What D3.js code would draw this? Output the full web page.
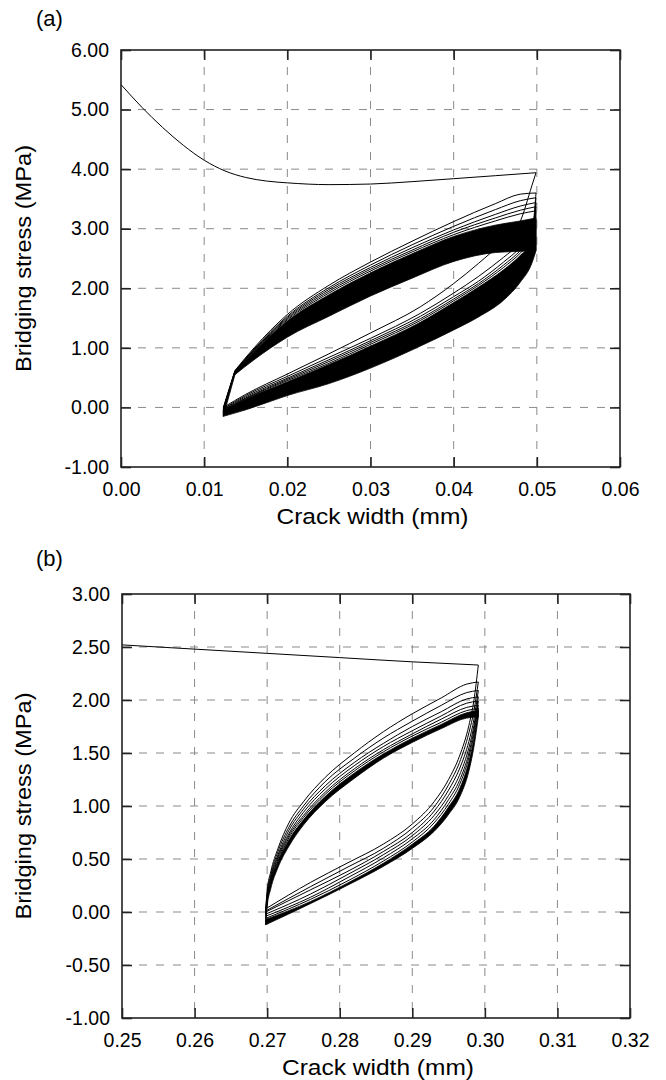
<!DOCTYPE html>
<html>
<head>
<meta charset="utf-8">
<script src="https://cdn.jsdelivr.net/npm/d3@7/dist/d3.min.js"></script>
<style>
  body { margin: 0; background: #fff; }
  svg { display: block; font-family: "Liberation Sans", Arial, sans-serif; }
</style>
</head>
<body>
<div id="chart"></div>
<script>
// ---------- panel (a) ----------
const aXTicks = [0, 0.01, 0.02, 0.03, 0.04, 0.05, 0.06];
const aYTicks = [-1, 0, 1, 2, 3, 4, 5, 6];

// monotonic envelope before the first unloading
const aEnvX = [0, 0.0025, 0.005, 0.0075, 0.01, 0.0125, 0.015, 0.0175, 0.02, 0.025, 0.03, 0.035, 0.04, 0.045, 0.0499];
const aEnvY = [5.42, 5.04, 4.70, 4.40, 4.15, 3.97, 3.86, 3.80, 3.77, 3.74, 3.75, 3.79, 3.84, 3.89, 3.94];

// reloading branches (upper side of the loops); first segment is the steep straight reload
const aUpX = [0.0123, 0.0137, 0.016, 0.02, 0.025, 0.03, 0.035, 0.04, 0.045, 0.048, 0.0499];
const aUp1 = [0.00, 0.62, 1.00, 1.56, 2.05, 2.44, 2.79, 3.12, 3.42, 3.58, 3.60];
const aUp2 = [-0.02, 0.61, 0.98, 1.53, 2.01, 2.39, 2.73, 3.04, 3.32, 3.47, 3.52];
const aUp3 = [-0.03, 0.61, 0.97, 1.51, 1.98, 2.35, 2.68, 2.98, 3.24, 3.38, 3.44];
const aUp4 = [-0.04, 0.60, 0.96, 1.49, 1.95, 2.32, 2.64, 2.94, 3.18, 3.31, 3.37];
const aUp5 = [-0.05, 0.60, 0.95, 1.47, 1.92, 2.29, 2.61, 2.90, 3.13, 3.25, 3.30];
const aUpBandTop = [-0.05, 0.60, 0.94, 1.45, 1.89, 2.26, 2.58, 2.87, 3.06, 3.13, 3.18];
const aUpBandBot = [-0.15, 0.55, 0.80, 1.18, 1.53, 1.87, 2.17, 2.45, 2.60, 2.62, 2.63];

// unloading branches (lower side of the loops)
const aLoX = [0.0499, 0.0494, 0.048, 0.046, 0.043, 0.04, 0.036, 0.03, 0.025, 0.02, 0.015, 0.0123];
const aLo1 = [3.94, 3.72, 3.12, 2.80, 2.42, 2.08, 1.69, 1.25, 0.90, 0.56, 0.22, 0.00];
const aLo2 = [3.60, 2.95, 2.75, 2.52, 2.20, 1.92, 1.58, 1.16, 0.84, 0.52, 0.20, -0.02];
const aLo3 = [3.52, 2.90, 2.68, 2.44, 2.12, 1.86, 1.53, 1.12, 0.80, 0.49, 0.18, -0.03];
const aLo4 = [3.44, 2.86, 2.63, 2.39, 2.08, 1.82, 1.49, 1.09, 0.77, 0.47, 0.16, -0.04];
const aLo5 = [3.37, 2.82, 2.59, 2.35, 2.05, 1.79, 1.46, 1.06, 0.74, 0.45, 0.15, -0.05];
const aLoBandTop = [3.30, 2.78, 2.55, 2.31, 2.02, 1.76, 1.43, 1.03, 0.72, 0.43, 0.14, -0.05];
const aLoBandBot = [2.63, 2.42, 2.10, 1.80, 1.52, 1.30, 1.03, 0.66, 0.40, 0.20, -0.04, -0.15];

// ---------- panel (b) ----------
const bXTicks = [0.25, 0.26, 0.27, 0.28, 0.29, 0.30, 0.31, 0.32];
const bYTicks = [-1, -0.5, 0, 0.5, 1, 1.5, 2, 2.5, 3];

const bEnvX = [0.25, 0.26, 0.27, 0.28, 0.29, 0.2991];
const bEnvY = [2.52, 2.48, 2.44, 2.40, 2.36, 2.33];

const bUpX = [0.2698, 0.2700, 0.2705, 0.2715, 0.273, 0.275, 0.278, 0.282, 0.286, 0.290, 0.294, 0.2975, 0.2991];
const bUp1 = [0.03, 0.20, 0.38, 0.60, 0.84, 1.04, 1.27, 1.50, 1.70, 1.87, 2.02, 2.15, 2.17];
const bUp2 = [0.01, 0.17, 0.35, 0.57, 0.80, 1.00, 1.23, 1.45, 1.64, 1.80, 1.95, 2.07, 2.09];
const bUp3 = [0.00, 0.15, 0.33, 0.54, 0.77, 0.97, 1.19, 1.41, 1.59, 1.75, 1.89, 2.01, 2.03];
const bUp4 = [-0.02, 0.13, 0.31, 0.52, 0.74, 0.94, 1.16, 1.38, 1.56, 1.71, 1.85, 1.97, 1.99];
const bUp5 = [-0.04, 0.12, 0.29, 0.50, 0.72, 0.91, 1.13, 1.35, 1.53, 1.68, 1.82, 1.93, 1.95];
const bUp6 = [-0.06, 0.10, 0.28, 0.48, 0.70, 0.89, 1.11, 1.33, 1.51, 1.66, 1.79, 1.90, 1.92];
const bUpBandTop = [-0.07, 0.09, 0.27, 0.47, 0.68, 0.87, 1.09, 1.31, 1.49, 1.64, 1.77, 1.88, 1.90];
const bUpBandBot = [-0.12, 0.05, 0.22, 0.42, 0.62, 0.82, 1.04, 1.26, 1.45, 1.60, 1.73, 1.83, 1.84];

const bLoX = [0.2991, 0.2985, 0.2978, 0.2965, 0.2950, 0.2930, 0.2900, 0.2860, 0.2810, 0.2760, 0.2698];
const bLo1 = [2.33, 2.00, 1.76, 1.47, 1.25, 1.04, 0.83, 0.64, 0.46, 0.28, 0.03];
const bLo2 = [2.17, 1.90, 1.69, 1.41, 1.20, 0.99, 0.79, 0.60, 0.42, 0.24, 0.01];
const bLo3 = [2.09, 1.82, 1.61, 1.35, 1.15, 0.95, 0.75, 0.57, 0.38, 0.21, 0.00];
const bLo4 = [2.03, 1.76, 1.55, 1.29, 1.10, 0.91, 0.72, 0.54, 0.35, 0.17, -0.02];
const bLo5 = [1.99, 1.72, 1.50, 1.24, 1.06, 0.87, 0.69, 0.51, 0.32, 0.14, -0.04];
const bLo6 = [1.95, 1.68, 1.46, 1.20, 1.02, 0.84, 0.66, 0.48, 0.29, 0.12, -0.06];
const bLoBandTop = [1.92, 1.64, 1.42, 1.16, 0.99, 0.81, 0.64, 0.46, 0.27, 0.10, -0.07];
const bLoBandBot = [1.84, 1.56, 1.33, 1.08, 0.92, 0.76, 0.60, 0.43, 0.25, 0.08, -0.12];

const svg = d3.select("#chart").append("svg")
  .attr("width", 666)
  .attr("height", 1080);
svg.append("rect").attr("width", 666).attr("height", 1080).attr("fill", "#fff");

// hyphen minus like the original figure
const fmt = d3.formatLocale({ decimal: ".", thousands: ",", grouping: [3], currency: ["", ""], minus: "-" }).format(".2f");

function drawPanel(p) {
  const g = svg.append("g").attr("transform", `translate(${p.left},${p.top})`);
  const w = p.width, h = p.height;

  const x = d3.scaleLinear().domain(d3.extent(p.xTicks)).range([0, w]);
  const y = d3.scaleLinear().domain(d3.extent(p.yTicks)).range([h, 0]);

  // dashed grid
  const grid = g.append("g").attr("stroke", "#8a8a8a").attr("stroke-width", 1).attr("stroke-dasharray", "8,9");
  grid.selectAll(".gx").data(p.xTicks.slice(1, -1)).enter().append("line")
    .attr("x1", d => x(d)).attr("x2", d => x(d)).attr("y1", 0).attr("y2", h);
  grid.selectAll(".gy").data(p.yTicks.slice(1, -1)).enter().append("line")
    .attr("y1", d => y(d)).attr("y2", d => y(d)).attr("x1", 0).attr("x2", w);

  const smooth = d3.line().curve(d3.curveMonotoneX).x(d => x(d[0])).y(d => y(d[1]));
  const straight = d3.line().x(d => x(d[0])).y(d => y(d[1]));
  const smoothArea = d3.area().curve(d3.curveMonotoneX)
    .x(d => x(d[0])).y0(d => y(d[2])).y1(d => y(d[1]));
  const straightArea = d3.area()
    .x(d => x(d[0])).y0(d => y(d[2])).y1(d => y(d[1]));

  // points sorted by x; 'corner' = number of leading straight segments
  function pieces(pts, corner) {
    pts.sort((a, b) => a[0] - b[0]);
    const k = corner || 0;
    return { head: k ? pts.slice(0, k + 1) : null, tail: pts.slice(k) };
  }

  // dense bands of later cycles
  p.bands.forEach(b => {
    const pc = pieces(d3.zip(b.xs, b.top, b.bot), b.corner);
    const parts = [smoothArea(pc.tail)];
    if (pc.head) parts.push(straightArea(pc.head));
    parts.forEach(d => g.append("path").attr("d", d)
      .attr("fill", "#000").attr("stroke", "#000").attr("stroke-width", 0.8));
  });

  // individual curves
  p.curves.forEach(c => {
    const pc = pieces(d3.zip(c.xs, c.ys), c.corner);
    const d = smooth(pc.tail) + (pc.head ? straight(pc.head) : "");
    g.append("path").attr("d", d)
      .attr("fill", "none").attr("stroke", "#000").attr("stroke-width", 1);
  });

  // frame
  g.append("rect").attr("width", w).attr("height", h)
    .attr("fill", "none").attr("stroke", "#222").attr("stroke-width", 1.6);

  // axes with inward ticks
  const axB = g.append("g").attr("transform", `translate(0,${h})`)
    .call(d3.axisBottom(x).tickValues(p.xTicks).tickFormat(fmt).tickSizeInner(-10).tickSizeOuter(0).tickPadding(15.5));
  const axL = g.append("g")
    .call(d3.axisLeft(y).tickValues(p.yTicks).tickFormat(fmt).tickSizeInner(-10).tickSizeOuter(0).tickPadding(12));
  const axT = g.append("g")
    .call(d3.axisTop(x).tickValues(p.xTicks).tickFormat("").tickSizeInner(-10).tickSizeOuter(0));
  const axR = g.append("g").attr("transform", `translate(${w},0)`)
    .call(d3.axisRight(y).tickValues(p.yTicks).tickFormat("").tickSizeInner(-10).tickSizeOuter(0));
  [axB, axL, axT, axR].forEach(a => {
    a.select(".domain").remove();
    a.selectAll("line").attr("stroke", "#222").attr("stroke-width", 1.6);
    a.selectAll("text").attr("fill", "#000").style("font-size", "19.5px")
      .style("font-family", '"Liberation Sans", Arial, sans-serif');
  });

  // axis titles
  g.append("text")
    .attr("x", w / 2 + 2).attr("y", h + 56.5)
    .attr("text-anchor", "middle")
    .attr("textLength", 192).attr("lengthAdjust", "spacingAndGlyphs")
    .style("font-size", "21.5px")
    .text("Crack width (mm)");
  g.append("text")
    .attr("transform", `translate(${31 - p.left},${h / 2}) rotate(-90)`)
    .attr("text-anchor", "middle")
    .attr("textLength", 227).attr("lengthAdjust", "spacingAndGlyphs")
    .style("font-size", "21.5px")
    .text("Bridging stress (MPa)");

  // panel label
  svg.append("text")
    .attr("x", 36).attr("y", p.labelY)
    .style("font-size", "22px")
    .text(p.label);
}

drawPanel({
  label: "(a)", labelY: 26,
  left: 121, top: 50, width: 499, height: 417,
  xTicks: aXTicks, yTicks: aYTicks,
  bands: [
    { xs: aUpX, top: aUpBandTop, bot: aUpBandBot, corner: 1 },
    { xs: aLoX, top: aLoBandTop, bot: aLoBandBot }
  ],
  curves: [
    { xs: aEnvX, ys: aEnvY },
    { xs: aLoX, ys: aLo1 }, { xs: aUpX, ys: aUp1, corner: 1 },
    { xs: aLoX, ys: aLo2 }, { xs: aUpX, ys: aUp2, corner: 1 },
    { xs: aLoX, ys: aLo3 }, { xs: aUpX, ys: aUp3, corner: 1 },
    { xs: aLoX, ys: aLo4 }, { xs: aUpX, ys: aUp4, corner: 1 },
    { xs: aLoX, ys: aLo5 }, { xs: aUpX, ys: aUp5, corner: 1 }
  ]
});

drawPanel({
  label: "(b)", labelY: 566,
  left: 122, top: 594, width: 508, height: 424,
  xTicks: bXTicks, yTicks: bYTicks,
  bands: [
    { xs: bUpX, top: bUpBandTop, bot: bUpBandBot },
    { xs: bLoX, top: bLoBandTop, bot: bLoBandBot }
  ],
  curves: [
    { xs: bEnvX, ys: bEnvY },
    { xs: bLoX, ys: bLo1 }, { xs: bUpX, ys: bUp1 },
    { xs: bLoX, ys: bLo2 }, { xs: bUpX, ys: bUp2 },
    { xs: bLoX, ys: bLo3 }, { xs: bUpX, ys: bUp3 },
    { xs: bLoX, ys: bLo4 }, { xs: bUpX, ys: bUp4 },
    { xs: bLoX, ys: bLo5 }, { xs: bUpX, ys: bUp5 },
    { xs: bLoX, ys: bLo6 }, { xs: bUpX, ys: bUp6 }
  ]
});
</script>
</body>
</html>
